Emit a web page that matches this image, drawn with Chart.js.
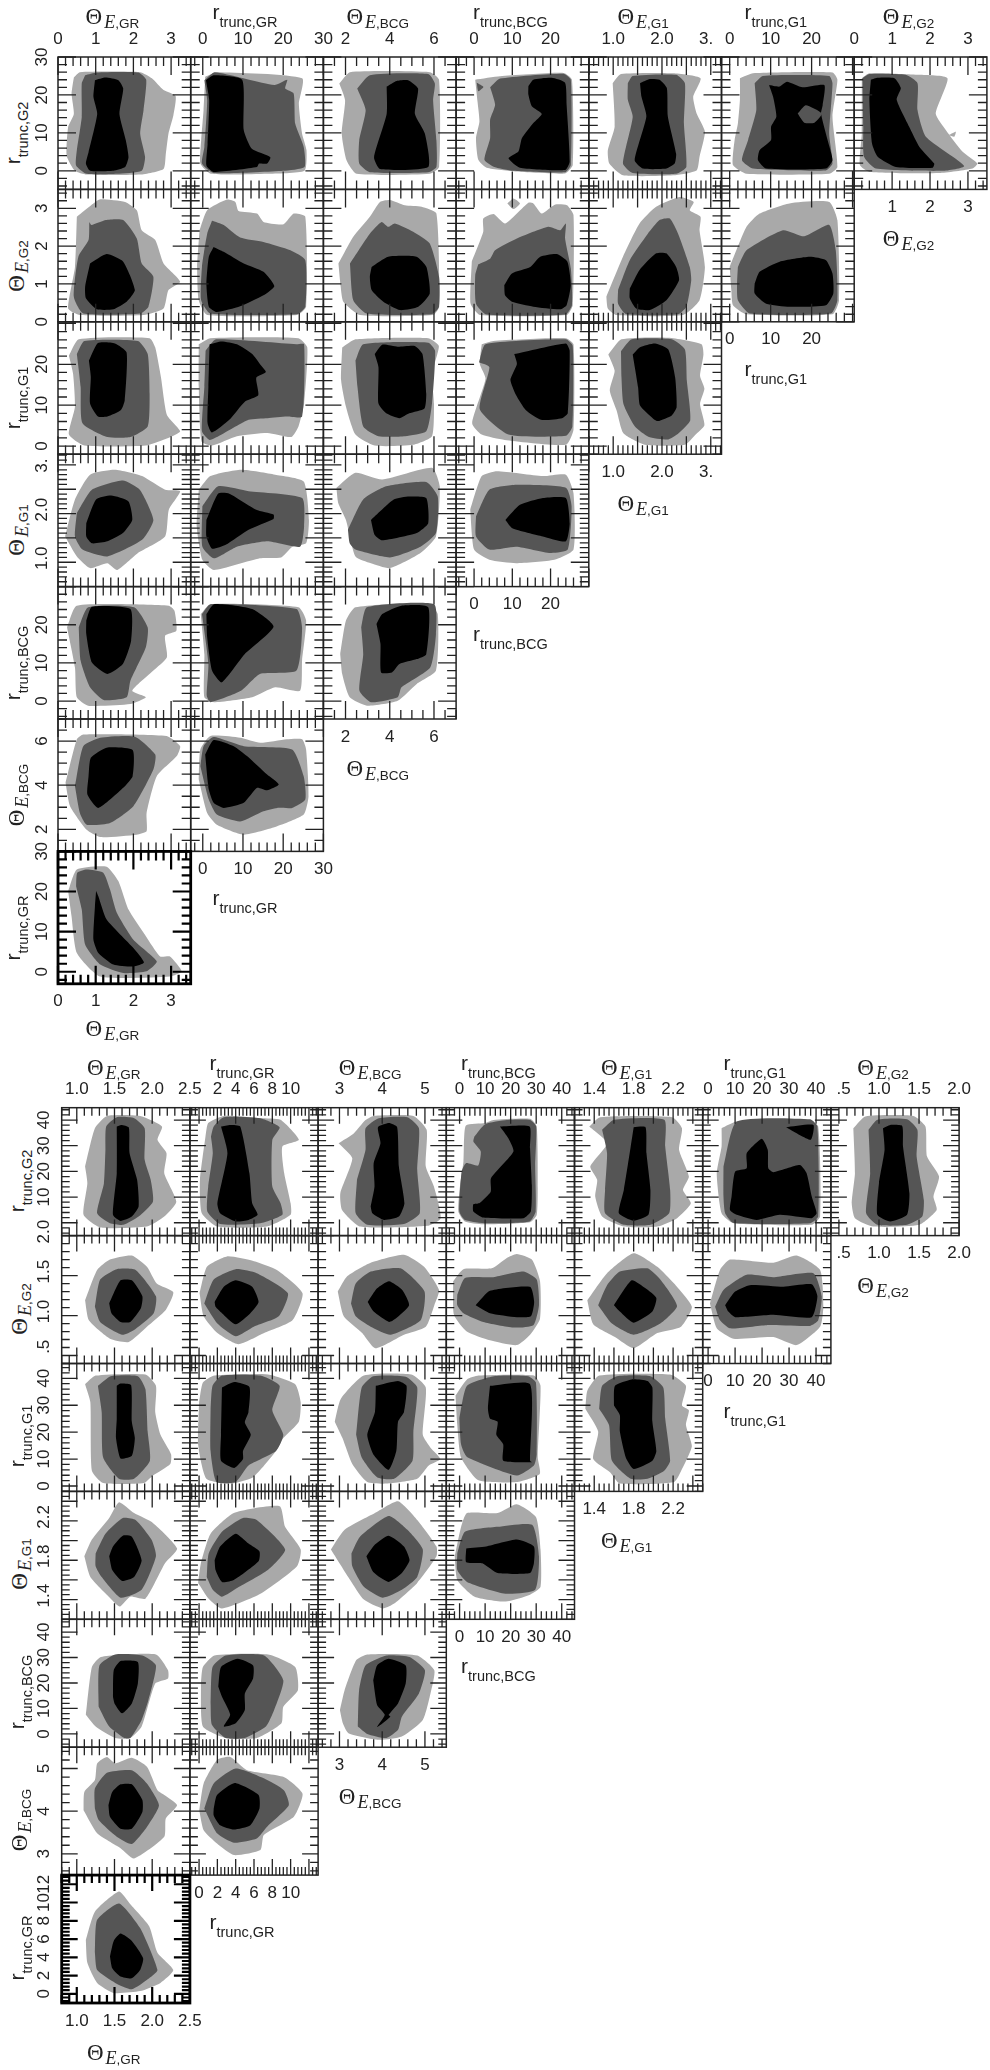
<!DOCTYPE html>
<html><head><meta charset="utf-8">
<style>
html,body{margin:0;padding:0;background:#fff;width:990px;height:2070px;overflow:hidden}
#page{position:relative;width:990px;height:2070px}
canvas{position:absolute}
.t{position:absolute;white-space:nowrap;color:#222;line-height:1;transform:translate(-50%,-50%)}
.t.v{transform:translate(-50%,-50%) rotate(-90deg)}
.th{font:23px "Liberation Serif",serif}
.e{font:italic 18px "Liberation Serif",serif;position:relative;top:4px;margin-left:2px}
.s{font:13.5px "Liberation Sans",sans-serif;position:relative;top:4px}
.r{font:21px "Liberation Sans",sans-serif}
.rs{font:14.5px "Liberation Sans",sans-serif;position:relative;top:8px}
</style></head><body><div id="page"></div>
<script src="https://cdn.jsdelivr.net/npm/chart.js@4/dist/chart.umd.js"></script>
<script>
// Variable names (columns, left to right; the last entry only appears as a row)
const varNames=[['t','GR'],['r','GR'],['t','BCG'],['r','BCG'],['t','G1'],['r','G1'],['t','G2'],['r','G2']];
// Upper figure: axis limits, tick steps and tick labels of each variable
const topRange=[[0,3.52],[-3,30],[1,7],[-4.7,30],[.5,3.22],[-2,30.4],[0,3.5],[-4.9,30]];
const topMajor=[1,10,2,10,.5,10,1,10];
const topMinor=[.2,2,.5,2,.1,2,.2,2];
const topTickText=[['0','1','2','3'],['0','10','20','30'],['2','4','6'],['0','10','20'],['1.0','2.0','3.'],['0','10','20'],['0','1','2','3'],['0','10','20','30']];
const topDiagText=[['0','1','2','3'],['0','10','20','30'],['2','4','6'],['0','10','20'],['1.0','2.0','3.'],['0','10','20'],['1','2','3']];
const topLeftText=[[],['0','10','20','30'],['2','4','6'],['0','10','20'],['1.0','2.0','3.'],['0','10','20'],['0','1','2','3'],['0','10','20','30']];
// Lower figure
const lowRange=[[.8,2.5],[-1,13],[2.5,5.5],[-5.2,45],[1.2,2.5],[-2,45.5],[.4,2],[-5,44.8]];
const lowMajor=[.5,2,1,10,.2,10,.5,10];
const lowMinor=[.1,.4,.2,2,.05,2,.1,2];
const lowTopText=[['1.0','1.5','2.0','2.5'],['2','4','6','8','10'],['3','4','5'],['0','10','20','30','40'],['1.4','1.8','2.2'],['0','10','20','30','40'],['.5','1.0','1.5','2.0']];
const lowDiagText=[['1.0','1.5','2.0','2.5'],['0','2','4','6','8','10'],['3','4','5'],['0','10','20','30','40'],['1.4','1.8','2.2'],['0','10','20','30','40'],['.5','1.0','1.5','2.0']];
const lowLeftText=[[],['0','2','4','6','8','10','12'],['3','4','5'],['0','10','20','30','40'],['1.4','1.8','2.2'],['0','10','20','30','40'],['.5','1.0','1.5','2.0'],['10','20','30','40']];

// Contours: [outer, middle, inner], each a flat list x,y,x,y... in data units
const T00=[[.42,24.6,.58,26,2.18,26,2.49,24.4,2.8,21.3,3.12,19.7,3.06,14.6,2.93,9.8,2.86,4.5,2.8,.5,2.18,-1,.76,-1,.45,0,.23,4,.27,11.6,.42,15,.36,20.4],[.72,25.2,1.03,25.9,2.13,25.9,2.34,24,2.27,16,2.18,9.8,2.31,3.6,2.22,0,1.56,-.8,.76,-.8,.48,1.4,.5,5.4,.63,14.2,.63,23],[.98,23.9,1.26,24.6,1.6,23.9,1.73,21.7,1.63,15,1.8,8,1.87,3.6,1.78,1,1.47,0,.85,0,.74,1.9,.81,4.9,1.04,15,.94,19.5]];
const T01=[[.6,24.8,3.5,26,24.7,24.4,23.9,17.7,24.7,9.8,25.8,5.4,25.3,0,16,-.8,2,-.8,-.6,1.9,-.4,8,.2,16],[.4,23.9,3,26,17.8,22.6,21,24,20.5,21.7,22.6,20.4,23,12.4,25.1,6.3,25.3,1,20,0,2.7,-.6,-.2,1.9,.4,6.3,1.1,18.6],[.8,23.9,2.7,25.2,9.8,24,10.2,10.7,12.2,5.8,16.8,3.6,16,1.9,14,1.9,13.5,1,2.7,-.3,.9,1.4,1.2,7.1,1.6,18.6]];
const T02=[[1.72,23,2.2,26,5.81,26,6.23,24,6.23,1,5.81,-.8,2.5,-.8,2.05,2.7,1.83,9.8,1.98,18.6],[2.53,21.7,3.1,25.2,5.74,25.5,6.04,23,5.96,18.6,6.11,8,6.11,1,5.74,-.4,3.1,-.4,2.62,1.9,2.62,8,2.91,16],[3.86,22.2,4.31,23.7,4.83,23.9,5.28,21.7,5.14,15,5.59,9.8,5.74,1,3.56,.5,3.29,3.6,3.86,15]];
const T03=[[.3,24,6.8,24.9,23.4,25.8,25.6,24,25.8,1.5,23.8,-.7,11.1,-.2,3.3,.8,1.1,2.9,.5,8.6,1.4,13,.9,18.3],[4.2,22,6.8,24.3,23.4,25.6,25.3,24,25.3,1.5,23.8,-.4,10.3,0,5.1,1.1,2.7,2.9,4.2,8.6,4.2,13.5,5.5,17.4],[14.2,22.3,15.5,24,20.3,24.5,23.8,23.2,24.2,17.4,25,2.4,23.8,.2,12,.8,9,3.3,11.6,5.1,12.5,8.6,15.5,12.6,17.7,15,15.1,17,14.2,20.1]];
const T04=[[.99,23.1,1.16,25.5,2.23,25.7,2.79,24.4,2.64,19.5,2.71,15.1,2.88,10.3,2.77,3.7,2.71,.1,2.23,-1.2,1.2,-1.2,.92,1.9,.89,5.4,1.03,11.6],[1.3,23.1,1.4,25,2.29,25.3,2.47,23.1,2.45,12.5,2.5,1,2.29,-.8,1.4,-.6,1.2,1.9,1.4,14.2,1.3,18.7],[1.55,23.1,1.75,24.2,1.95,24,2.1,21.8,2.12,14.3,2.29,4.5,2.26,1.9,2.09,.6,1.61,.6,1.44,2.8,1.68,14.3,1.58,19.5]];
const T05=[[2.5,24.4,5.7,25.7,25.1,25.9,26.3,24,25.1,14.3,26.3,1,24.3,-.8,4.1,-.8,.8,1.5,1.2,8.1,2,12.5,2.5,18.7],[6.1,23.1,8.1,25,24.3,25,25.1,23.1,24.3,9.8,25.1,1.9,23.5,.1,5.7,.6,3,2.8,4.5,8.1,6.5,16],[9.6,22.6,12.1,22.2,14,23.5,17.8,22,23.1,22.6,22.7,17.3,22.3,15.1,23.9,8.1,25.1,2.8,23.5,.6,8.9,.6,6.9,2.8,7.3,5.4,10.1,8.1,10.1,11.6,11.4,14.3,10.6,19.5]];
const T06=[[.2,24.4,.4,25.7,1.72,25.3,2.46,24.4,2.15,15.1,2.42,10.7,2.86,5,3.25,1.9,3.12,.6,2.24,-.6,.4,-.3,.15,1.5,.2,9.8],[.22,24.4,.4,25.5,1.36,25.3,1.67,23.1,1.67,16,1.89,9,2.9,1.3,2.33,0,.57,.6,.26,3.7,.24,11.6],[.44,24,.62,24.5,1.06,24.4,1.23,21.8,1.12,18.7,1.45,11.6,1.72,6.3,2.11,1.9,2.07,.8,1.1,1,.62,3.7,.47,7.2,.4,18.7]];
const T10=[[.5,2.78,.94,3.13,1.12,3.24,1.78,3.17,2.09,2.95,2.22,2.42,2.58,2.16,2.8,1.54,3.24,1.06,2.93,.84,2.8,.35,2.27,.18,.58,.18,.27,.35,.45,1.45],[.83,2.64,.89,2.56,1.27,2.69,1.73,2.69,2.09,2.2,2.22,1.54,2.53,1.19,2.4,.4,2.18,.22,.67,.22,.42,.66,.54,1.72,.81,2.16],[.85,1.54,1.29,1.79,1.73,1.59,2.04,.84,1.82,.53,1.47,.33,1.03,.33,.74,.62,.72,.93]];
const T11=[[-.8,2.42,1.1,2.95,6,3.23,8.1,3.17,8.9,2.93,13.5,2.86,15.1,2.64,20.1,2.58,22.6,2.86,25.5,2.78,25.7,.4,23.4,.18,1.1,.18,-1,.57,-1.4,1.45],[2.3,2.67,5.2,2.56,9.3,2.23,15.1,2.11,21.8,1.89,25.5,1.63,25.5,.4,23.4,.2,1.9,.22,-.4,.57,-.2,1.45,1.1,2.33],[2.7,1.98,5.2,1.85,10.2,1.54,15.1,1.32,17.8,.94,15.1,.7,9.3,.41,3.5,.26,1.5,.4,.9,1.01,1.5,1.72]];
const T12=[[1.68,1.54,2.35,2.25,3.1,2.78,3.56,3.17,4.01,3.22,4.68,3.08,5.44,3.04,6.11,2.86,6.23,.4,5.96,.18,2.65,.18,1.9,.53,1.78,.93],[2.2,1.54,3.1,2.33,3.63,2.64,3.93,2.51,4.23,2.6,5.06,2.38,5.81,2.07,6.23,1.19,6.23,.4,5.89,.2,2.95,.22,2.35,.57],[3.18,1.45,3.93,1.72,5.21,1.72,5.66,1.45,5.81,.75,5.29,.4,4.46,.31,3.71,.53,3.18,.84,3.1,1.19]];
const T13=[[-.6,1.59,2.4,2.38,2.4,2.73,5.1,2.85,8.1,2.6,14.2,3.15,15.5,3.13,17.7,2.86,21.2,3.1,24.3,3.08,26,2.82,25.8,.44,24.2,.18,1.6,.18,-.9,.48],[1.1,1.52,4.2,1.67,5.5,1.89,11.2,2.2,19.4,2.51,22.5,2.42,24,2.6,23.8,2.2,25.3,1.41,25.6,.44,23.8,.19,3.3,.19,.5,.48,.3,1.23],[7.9,.97,9.9,1.28,14.7,1.45,17.3,1.72,21.6,1.79,24.4,1.59,25.3,.97,24.2,.44,22.5,.33,15.5,.4,9.9,.53,8.1,.7]];
const T14=[[.86,.66,1.2,1.72,1.54,2.6,1.88,3.04,2.36,3.3,2.65,3.17,2.57,2.95,2.79,2.78,2.77,2.42,2.88,1.45,2.77,.57,2.43,.18,1.06,.18,.89,.35],[1.1,.84,1.34,1.63,1.71,2.33,1.95,2.69,2.16,2.73,2.33,2.33,2.57,1.45,2.6,1.1,2.5,.4,2.33,.2,1.27,.2,1.1,.48],[1.34,.88,1.54,1.37,1.88,1.81,2.09,1.81,2.29,1.45,2.35,1.1,2.09,.57,1.75,.31,1.47,.35,1.34,.62]];
const T15=[[0,1.45,4.1,2.51,7.3,2.86,14.6,3.13,24.3,3.17,26.3,2.69,26.7,.57,25.1,.2,4.1,.2,.8,.44,.4,.84],[2,1.45,4.1,1.89,13,2.42,18.2,2.26,24.3,2.56,25.9,1.89,26.3,.57,24.7,.22,4.9,.22,2,.57,1.8,1.01],[6.1,1.01,7.3,1.32,12.2,1.59,19.5,1.72,23.5,1.63,25.1,1.28,25.3,.75,23.5,.44,14.6,.4,8.9,.48,6.1,.75]];
const T20=[[.29,22.1,.55,26.1,2.43,26.4,2.58,24.1,2.73,16.9,2.89,7.6,3.24,3.6,2.94,2,2.33,.1,.7,.1,.29,2.8,.45,9.6,.4,17.7],[.5,22.5,.7,25.7,2.12,25.7,2.38,22.5,2.43,12.8,2.38,4.8,1.92,2.2,1.31,2.2,.65,5.6,.6,14.5],[.82,20.9,1.06,25.2,1.51,25.1,1.82,22.9,1.77,11.2,1.67,8.8,1.31,7.2,1.06,7.2,.85,10.4,.87,16.9]];
const T21=[[-1,24.9,1.9,26.4,23.8,26.4,26,24.1,25.2,10.4,23.8,4.8,22,2.2,16.1,3.2,8.5,2.4,2.3,.1,-.3,1.1,-1,14.5],[.7,23.3,3.3,26.1,23.3,24.9,25.2,24.9,24.7,7.2,20.9,7.2,16.1,6.8,11.4,6.4,4.7,2.8,1.7,1.5,-.2,3.6,.4,14.5],[1.7,24.9,4.7,25.6,8.5,24.9,12.3,22.5,14.2,20.1,15.7,18.1,13.3,16.7,13.8,12.4,10.4,10.8,6.6,6.4,2.3,3.3,1.2,5.6,1.4,14.5]];
const T22=[[1.85,24.1,2.45,26.1,5.74,26.4,6.22,24.5,5.91,17.7,6,10.4,5.91,2.4,5.05,.3,3.32,.1,2.45,2.8,2.02,9.6,1.8,16.1],[2.45,20.9,2.8,24.9,5.74,25.3,6.05,23.3,5.91,10.4,5.65,3.6,4.7,2.4,3.49,2.4,2.8,4.8,2.54,14.5],[3.32,22.5,3.66,24.8,4.36,24.3,5.13,24.5,5.48,22.5,5.65,12.8,5.57,9.2,4.88,8,4.44,6.8,3.84,8,3.49,10.4,3.49,19.3]];
const T23=[[2,24.9,5,25.7,24,26.4,26,24.9,26,4,24,.3,8,1.5,2,2.8,-.5,5.6,3,16.5,1.5,20.1],[1.3,20.5,3,24.9,24,26.1,25.8,24.5,25.7,4.8,24,2.5,9,2.8,1.5,9,4,19.3],[10.5,22.5,24,25.1,25,23.3,24.5,8,23,6.8,17.5,6.4,13.5,8.8,11,12.4,9.5,16.2,11.2,20.1]];
const T24=[[.9,22.4,1.17,26.1,2.13,26.5,2.81,24.9,2.85,22.4,2.78,17.2,2.87,14,2.78,10.3,2.87,5.1,2.68,2.7,2.47,.3,1.65,.3,1.21,3.1,1.07,8.7,.93,13.6,1.03,18.4],[1.16,23.2,1.38,26.1,2.2,26.1,2.47,23.6,2.51,16,2.58,6.3,2.34,3.1,2.13,1.6,1.72,2.3,1.45,4.7,1.21,10.3,1.17,16.8],[1.4,22.4,1.55,24.2,1.86,25.1,2.13,23.6,2.27,16.8,2.3,9.5,2.2,7.5,1.92,6.1,1.82,6.7,1.55,9.9,1.51,14.4]];
const T30=[[.19,1.53,.45,2.29,.85,2.8,1.51,2.9,2.23,2.77,2.84,2.49,3.24,2.46,2.94,2.08,2.84,1.53,2.12,1.19,1.57,.84,1.31,.98,.85,.88,.5,1.12],[.5,2.01,.9,2.49,1.72,2.68,2.17,2.49,2.53,1.87,2.23,1.46,1.31,1.12,.65,1.26,.45,1.53],[.75,1.8,1.01,2.29,1.41,2.37,1.87,2.25,1.97,1.87,1.72,1.6,1.31,1.43,.9,1.39,.75,1.53]];
const T31=[[-1,2.49,1.9,2.77,9.5,2.9,18,2.8,25.1,2.66,26.4,1.87,25.7,1.39,22.3,1.32,19.5,1.1,14.2,1.08,2.8,.84,-.1,1.05,-1.5,1.74],[-.1,2.15,3.8,2.56,11.4,2.46,24.7,2.32,25.2,1.74,24.2,1.32,16.1,1.43,8.5,1.32,2.8,1.08,-.1,1.32],[.9,1.87,3.8,2.41,6.6,2.41,13.3,2.08,17.6,1.98,17.6,1.89,11.4,1.67,5.7,1.36,2.3,1.28,.9,1.53]];
const T32=[[1.59,2.53,2.45,2.84,3.66,2.7,5.91,2.94,6.26,2.56,6.09,1.53,5.39,1.19,4.01,.88,3.15,.98,2.45,1.12,2.02,1.87,1.67,2.22],[2.11,1.67,2.8,2.29,3.84,2.56,5.65,2.65,6.17,2.35,6.09,1.6,5.39,1.32,4.01,1.1,2.45,1.26,2.19,1.39],[3.15,1.87,4.18,2.29,4.88,2.35,5.65,2.32,5.74,1.8,5.22,1.6,3.66,1.45,3.32,1.56]];
const T33=[[-1,2.08,2,2.77,6,2.87,18,2.77,24,2.8,26,2.42,26,1.26,21,1.05,11,.98,4,1.05,0,1.26],[.5,1.94,4,2.49,11,2.59,24,2.53,25.5,2.15,24.5,1.26,20,1.19,11,1.32,4,1.26,.5,1.53],[8.2,1.87,12,2.18,18,2.32,24,2.32,25,1.8,24,1.43,18,1.53,10,1.7]];
const T40=[[.24,19.3,.5,25,2.94,25,3.09,23.7,3.14,18.4,2.84,17.1,2.89,11.5,2.53,8,1.97,2.7,2.33,1,1.92,-.8,.8,-1.2,.5,1,.45,8.8],[.55,19.3,.8,24.6,2.02,24.6,2.38,19.3,2.33,14.1,1.92,5.3,1.82,1,1.21,.3,.85,3.6,.6,10.6],[.75,21.1,.9,24.7,1.92,24.1,1.94,15.8,1.72,9.7,1.31,7.1,.9,10.1,.75,17.6]];
const T41=[[-.5,22.8,1.9,25.4,23.8,24.6,25.7,21.1,24.7,10.6,24.2,2.7,18,3.6,12.3,1,2.8,-.3,.4,1,.4,12.3],[-.2,22.8,1.9,25.4,23.3,24.1,24.7,19.3,23.3,8,14.2,7.1,9.5,2.7,1.9,-.3,1,1.4,1.4,9.7],[.9,22.8,2.8,25.4,12.3,24.1,17.6,19.5,10.4,12.3,4.7,4.9,2.3,8,1.1,16.7]];
const T42=[[1.76,12.3,2.02,21.1,2.45,24.6,5.74,25.6,6.17,22.8,6.09,8,5.22,4.5,4.36,.1,2.97,-1.2,2.19,1,1.85,7.1],[2.71,19.3,2.97,24.6,6,25.4,6.09,17.6,5.83,8.8,4.53,3.6,4.36,1,3.15,-.3,2.63,2.7,2.8,12.3],[3.4,20.2,3.66,22.8,4.53,25,5.74,24.6,5.65,12.3,5.22,11,4.44,9.7,4.1,7.5,3.61,7.5,3.58,15]];
const T50=[[.2,4.11,.5,6.08,.67,6.3,2.88,6.23,3.24,5.77,3.15,5.32,2.62,4.41,2.35,2.74,2.35,1.91,2.09,1.76,1.12,1.65,.76,1.98,.32,3.05],[.45,3.95,.67,5.77,1.12,6.15,2.04,6.2,2.58,5.39,2.53,4.71,2,3.05,1.38,2.29,.76,2.21,.58,2.74],[.81,4.41,.87,5.24,1.29,5.7,1.98,5.59,1.98,4.41,1.73,3.88,1.07,2.97,.78,3.58]];
const T51=[[-1,4.26,-.6,5.62,1.9,6.23,9.3,6.15,14.3,5.92,20.9,6.08,24.7,6.08,25.7,5.62,26.3,3.5,25.1,2.67,18.5,2.14,10.2,1.76,3.5,2.21,1.1,2.74],[-.6,4.86,.2,5.77,2.7,6.18,10.2,5.77,22.2,5.62,25.1,4.41,25.5,3.35,22.2,2.97,18.5,2.97,15.1,2.82,9.3,2.36,3.5,2.67,1.5,3.35],[.6,5.39,2.7,6.05,7.7,5.77,11,5.32,16,4.48,18.9,4.03,16,3.77,13.5,3.88,10.2,3.2,5.2,2.97,2.7,3.2,1.5,3.8]];
const T60=[[.27,20.1,.5,25.5,1.29,26.2,1.6,22.6,1.87,15.5,2.27,9.7,2.71,3.8,2.97,3.8,3.28,.1,2.97,-1.2,1.12,-1.2,.5,4.7,.36,13.8],[.48,21.3,.51,24.7,.76,25.5,1.2,24.7,1.38,20.5,1.56,14.7,2,8,2.62,2.6,2.35,.1,1.73,-.3,1.12,1.8,.72,6.8,.63,15.5],[1.01,20.1,1.07,18.8,1.29,13,2,5.9,2.28,2.3,2,1.3,1.47,1.8,1.07,4.7,.94,8,.98,16.3]];

const B00=[[1.11,21.9,1.24,36.8,1.4,41.6,1.84,41.6,2.13,37.5,2.07,32.3,2.19,27.1,2.16,19.3,2.32,8.2,2.16,2.4,1.93,-1.5,1.31,-1.8,1.09,3.1,1.14,15.4],[1.38,28.4,1.39,37.5,1.53,41.1,1.76,40.7,1.9,36.8,1.9,24.5,1.98,16.7,2.01,8.2,1.82,2.4,1.62,-.8,1.44,-.2,1.27,3.7,1.36,15.4],[1.53,37.5,1.59,38.1,1.69,37.1,1.7,27.1,1.8,16.7,1.82,6.3,1.73,2.4,1.58,.7,1.48,3.1,1.53,19.3]];
const B01=[[.7,33.6,1,38.8,2.7,41.6,6.7,40.7,8.9,40.1,10.9,32.3,9.1,29.7,9.3,19.3,10,7.6,10,3.1,7.4,-1.5,2,-1.5,.3,3.7,.1,16.7],[1.3,33.6,1.6,37.5,2.7,41.1,6.7,40.7,8.8,37.2,8,32.3,8,14.1,8.9,7.6,9.1,3.1,6.7,-.2,2.3,-.5,.9,4.4,1,14.1,1.5,27.1],[2.4,37.5,3.4,38.1,4.5,37.5,5.5,19.3,5.8,7.6,6.4,3.1,5.4,1.1,4,.5,2.3,3.7,2,7.6,3.1,27.1]];
const B02=[[2.98,31,3.34,34.9,3.61,40,3.8,41.6,4.73,41.6,5.04,36.2,5.02,21.9,5.21,14.1,5.37,1.8,5.05,-1.2,3.49,-1.5,3.06,5,3.02,11.5,3.3,25.1],[3.41,16.7,3.61,28.4,3.61,36.8,3.92,40.7,4.59,41.1,4.86,36.8,4.82,20.6,4.88,3.7,4.51,-.5,3.65,-.8,3.38,3.7],[3.73,6.3,3.82,14.1,3.8,23.2,3.96,31,3.9,37.2,4.16,38.8,4.35,37.2,4.39,21.9,4.52,7.6,4.39,2.4,4.04,1.1,3.77,3.7]];
const B03=[[1.7,31.6,2.5,37.9,10,38.8,13.2,40,27.6,40.5,30.2,37.5,30.6,13.4,30.2,3,27.6,.2,9.2,-.6,2.1,.5,-.5,4.4,.2,14.7,1.5,23.8],[5.8,33.6,10,38.4,18.5,40,27.6,40,30,37.5,29.6,22.5,29.8,4.4,27.4,.5,10.6,-.2,2.1,1.1,-.1,4.4,.8,19.9,2.5,23.2,7.3,22.3,8.3,27.7,5.4,31.6],[15.8,37.5,27.4,37.5,27.6,29,28.3,14.7,27.9,4.4,25,1.8,9.3,2,5.4,4.4,5.4,7.2,7.7,7.6,12.2,12.1,12.3,17.3,21.1,27.7,19.1,32.9]];
const B04=[[1.35,37.5,1.46,41.1,2.19,41.1,2.29,36.8,2.26,28.4,2.36,18,2.3,12.8,2.38,7.6,2.24,1.8,2.04,-1.5,1.7,-1.5,1.48,2.4,1.41,10.2,1.43,16.7,1.36,21.9,1.53,31],[1.48,36.2,1.6,40.1,2.11,40.1,2.12,29.7,2.17,12.8,2.16,3.7,1.97,-.8,1.7,-.8,1.51,3.7,1.51,12.8,1.53,27.1],[1.8,37.2,1.92,37.2,1.93,27.1,1.97,12.8,1.95,3.1,1.8,.8,1.65,3.7,1.7,12.8,1.77,29.7]];
const B05=[[5,36.8,10.6,39.4,36.5,40.1,40.8,37.5,41.5,2.4,38.4,-.8,9.4,-.2,5,3.7,3.2,19.3,5,29.7],[5.7,21.9,10.6,39.4,37.8,40.3,40.5,37.5,40.8,2.4,37.8,-.2,9.4,-.1,6.3,3.7,5.7,10.2],[8.7,10.2,10,19.9,14.3,21.2,14.3,27.1,19.9,32.7,22.1,28.4,22.3,21.2,24.2,19.7,34,22.5,36.5,19.3,38.4,10.2,40.2,3.7,38.4,1.8,26.6,3.1,18,1.1,10.6,3.1,8.1,5]];
const B06=[[.68,36.8,.83,41.4,1.43,41.6,1.58,37.5,1.6,25.8,1.75,18,1.68,10.2,1.72,5,1.5,-.8,.93,-1.5,.7,1.8,.66,7.6,.7,19.3],[.87,36.2,.98,40.1,1.35,40.3,1.48,36.2,1.47,25.8,1.56,8.9,1.54,2.4,1.35,-.8,.98,-.8,.84,3.7,.89,19.3],[1.05,36.8,1.14,38.1,1.29,37.7,1.3,29.7,1.38,11.5,1.35,3.1,1.14,.5,.98,3.1,1,15.4,1.07,28.4]];
const B10=[[1.11,1.19,1.27,1.57,1.44,1.7,1.73,1.75,1.93,1.61,2.06,1.4,2.28,1.29,2.18,1.07,1.93,.86,1.69,.67,1.44,.71,1.16,.94],[1.24,1.11,1.31,1.45,1.53,1.58,1.78,1.57,2.05,1.24,2.02,1.03,1.76,.82,1.6,.76,1.31,.92],[1.43,1.15,1.58,1.44,1.73,1.44,1.87,1.24,1.85,1.09,1.71,.92,1.58,.92,1.46,1.03]];
const B11=[[.06,1.28,.86,1.61,3.05,1.74,6,1.68,8.5,1.57,11.3,1.28,10.2,.94,7.1,.78,4.3,.64,2,.78,.5,.99],[.57,1.15,1.6,1.45,4,1.58,6.3,1.53,9.7,1.28,8.7,.99,5.97,.86,4,.74,2,.9],[1.7,1.17,2.7,1.36,4,1.44,5.8,1.36,6.5,1.17,5.6,1.03,4,.89,2.5,1.03,1.8,1.11]];
const B12=[[2.96,1.3,3.18,1.49,3.73,1.66,4.51,1.76,4.98,1.61,5.33,1.32,5.22,1.13,5.02,.86,4.51,.76,3.84,.59,3.53,.78,3.1,.99],[3.27,1.15,3.38,1.4,3.73,1.55,4.43,1.59,4.99,1.3,4.9,.94,4.2,.76,3.73,.86,3.38,.99],[3.66,1.17,3.88,1.34,4.16,1.43,4.47,1.32,4.63,1.13,4.31,.96,4.16,.92,3.8,1.05]];
const B13=[[-2.5,1.43,1.5,1.58,12.6,1.59,18.5,1.72,22.4,1.77,28.3,1.7,31.5,1.43,31.5,.96,27.6,.76,22.4,.63,11.9,.69,2.8,.8,-2.2,1.01],[-.9,1.26,2.1,1.47,13.2,1.48,25,1.55,30.2,1.45,31.1,1.13,28.9,.88,21.1,.85,9.3,.92,1.5,1.03,-.9,1.13],[6.3,1.13,11.9,1.31,27.6,1.36,29.2,1.17,27.9,.99,22.4,.98,11.9,1.03]];
const B14=[[1.33,1.19,1.53,1.53,1.8,1.78,2.04,1.61,2.21,1.4,2.39,1.11,2.28,.86,2.04,.78,1.8,.59,1.61,.73,1.39,.89],[1.44,1.13,1.53,1.38,1.66,1.55,1.94,1.59,2.07,1.45,2.24,1.12,2.07,.9,1.8,.76,1.58,.9],[1.6,1.13,1.78,1.44,1.92,1.34,2.03,1.22,1.99,1.05,1.8,.91,1.66,1.05]];
const B15=[[.7,1.15,4.4,1.57,8.1,1.7,24.2,1.66,32.8,1.75,41.5,1.57,42.7,1.11,41.5,.86,32.8,.63,24.2,.73,9.4,.71,3.2,.84],[2.6,1.11,5.7,1.32,14.3,1.51,24.2,1.48,39,1.53,42.1,1.24,40.8,.94,37.8,.87,21.7,.88,8.1,.84,4.4,.94],[6.3,1.13,10,1.3,15.5,1.38,27.9,1.36,38.4,1.39,40.5,1.24,38.4,.98,24.2,1.01,10,.98,7.5,1.05]];
const B20=[[1.11,37.8,1.25,41,1.91,41.4,2.05,37.2,2.04,27.5,2.11,19,2.25,11.8,2.24,8.2,2.01,3.9,1.89,1.1,1.35,1.1,1.2,5.7,1.18,31.1],[1.28,37.2,1.45,40.8,1.81,40.8,1.91,36,1.94,20.2,1.97,9.4,1.76,2.7,1.56,2.7,1.35,10.6,1.33,27.5],[1.53,37.2,1.58,38.1,1.72,37.5,1.73,23.9,1.77,17.8,1.73,11.2,1.58,10.2,1.52,17.8,1.53,25.1]];
const B21=[[0,31.1,.42,38.4,1.68,41,7.54,41.4,10.5,37.8,11.1,31.1,10.9,23.9,9.2,17.8,8.4,13,5.9,3.3,3.4,.9,.8,2.7,-.1,15.4],[1.26,28.7,1.47,37.2,2.5,41,6.7,41,8.8,37.2,8,28.1,9.2,19,8.4,13,5.4,7.6,4,1.5,1.9,1.5,1.26,13],[2.5,36.6,3.85,38.6,5.5,36.8,5.4,27.5,5,23.6,5.65,19,4.8,13,4.8,10,3.85,6.7,2.4,9.4,2.4,19]];
const B22=[[2.89,23.9,3.03,32.3,3.57,41,4.68,41.4,5.02,36.6,4.95,19,5.13,14.2,5.36,10,5.09,7.6,4.82,2.7,4.1,.9,3.65,1.5,3.3,8.2,3.07,17.8],[3.39,19,3.52,36.6,3.79,40.8,4.55,40.6,4.82,36.6,4.73,20.2,4.71,9.4,4.28,2.7,3.88,3.3,3.52,10.6],[3.85,37.2,4.37,39,4.57,37.2,4.51,27.5,4.37,23.9,4.33,13,4.15,6,3.79,11.8,3.65,19,3.83,27.5]];
const B23=[[-1.6,33.6,2.9,39.6,7.4,41,29.1,41,31.7,37.2,30.6,10.6,31.4,4.5,22.4,1.5,7.4,2.1,.6,10.6,-.9,22.7],[-.1,25.1,2.9,37.2,13.4,40.8,26.9,40.8,29.9,38.4,30.2,11.8,29.1,7.6,22.4,3.9,2.9,10.8,.6,15.4],[11.9,37.2,27.6,37.8,27.6,9.4,28.4,8.8,17.1,9.4,17.1,15.4,14.4,19,14.9,23.9,11.9,25.1,11.1,28.7]];
const B24=[[1.31,28.7,1.33,35.4,1.45,41,2.17,41.4,2.33,37.2,2.29,29.9,2.36,28.1,2.33,22.7,2.39,14.8,2.29,6.3,2.21,1.5,1.66,.9,1.56,5.1,1.39,10,1.44,20.2],[1.45,28.7,1.48,37.2,1.63,40.8,1.97,40.8,2.1,36.6,2.12,25.1,2.17,9.4,2.11,5.7,1.94,2.7,1.77,2.7,1.58,9.4,1.55,22.7],[1.6,29.9,1.61,37.2,1.78,39.6,1.94,39,1.99,36.6,1.99,23.9,2.03,13,1.99,9.4,1.8,6.3,1.72,10.6,1.66,20.2,1.66,26.3]];
const B30=[[1.1,1.84,1.2,2.01,1.43,2.23,1.56,2.39,1.76,2.28,2.01,2.18,2.33,1.92,2.17,1.77,1.91,1.41,1.71,1.43,1.57,1.33,1.45,1.41,1.18,1.63],[1.25,1.87,1.38,2.07,1.61,2.23,1.78,2.21,1.99,2.01,2.05,1.84,1.86,1.5,1.58,1.42,1.33,1.63,1.25,1.74],[1.43,1.84,1.48,1.94,1.61,2.05,1.73,2.04,1.86,1.8,1.76,1.63,1.6,1.59,1.47,1.7]];
const B31=[[-.1,1.57,.2,1.77,1.26,2.07,3.8,2.28,8.8,2.35,9.4,2.14,11.1,1.91,10.7,1.74,6.7,1.46,2.5,1.31,1.05,1.41],[.84,1.63,1.05,1.87,2.5,2.09,4.8,2.23,6.3,2.21,9.4,1.91,7.5,1.7,4.2,1.52,2.5,1.43,1.5,1.5],[1.7,1.8,2.3,1.94,4,2.07,5.4,1.97,6.6,1.89,6.5,1.79,3.8,1.6,2.5,1.58,1.8,1.7]];
const B32=[[2.8,1.91,3.12,2.11,3.83,2.28,4.37,2.4,4.82,2.21,5.27,1.94,5.27,1.84,4.82,1.57,4.28,1.36,4.01,1.31,3.57,1.4,3.25,1.6],[3.28,1.87,3.48,2.04,4.15,2.25,4.59,2.11,4.95,1.91,4.82,1.63,4.46,1.5,4.01,1.42,3.57,1.53,3.3,1.74],[3.63,1.84,3.83,1.96,4.15,2.05,4.51,1.94,4.64,1.8,4.46,1.67,4.15,1.58,3.79,1.68]];
const B33=[[-1.9,1.84,.6,2.14,2.9,2.28,14.9,2.28,22.4,2.37,29.9,2.24,31.7,1.91,31.7,1.53,27.6,1.45,18,1.38,5.9,1.43,-.9,1.6],[-.9,1.87,2.1,2.09,14.9,2.14,28.4,2.16,31.1,1.84,29.6,1.5,18,1.46,2.9,1.58,-.9,1.7],[2.6,1.92,10.4,1.94,22.4,2.01,29.1,1.94,29.1,1.77,27.6,1.67,14.9,1.67,8.9,1.77,2.6,1.78]];
const B40=[[1.12,7.5,1.2,26.3,1.32,30.2,2.05,31.2,2.21,25,2.21,21.8,2.04,19.8,1.86,2.9,1.71,-1.6,1.51,-1.6,1.25,2.9],[1.29,10.7,1.3,26.9,1.51,31.2,1.87,30.8,2.05,26.9,1.95,13.3,1.86,5.5,1.71,-1.6,1.63,-1.6,1.43,2.9],[1.48,14.6,1.49,25,1.58,28.6,1.81,28.2,1.81,19.8,1.73,12,1.6,8.1,1.5,12]];
const B41=[[.2,19.8,.42,26.3,1.68,30.8,7.54,31.2,10.5,26.3,10.8,17.2,9.2,10.7,9,4.2,6.3,-1.6,2.9,-1.6,.42,2.9],[1.26,12,1.47,26.3,2.9,30.8,7.1,30.8,9.2,21.1,8.2,9.4,7.3,2.9,5,-1.6,2.9,-1.6,1.4,3.6],[2.1,18.5,2.4,26.3,4.2,29.5,5.9,26.9,5.9,21.8,5,15.9,5,9.4,4,4.2,2.7,2.9,3.4,7.5,2.5,14.6]];
const B42=[[3.01,9.4,3.12,17.2,3.39,28.9,3.65,31.2,4.82,30.8,5.22,25,5.13,15.9,4.95,5.5,4.46,-1,3.92,-2.3,3.21,.3,3.08,4.2],[3.43,2.9,3.46,17.2,3.61,26.9,4.1,30.8,4.64,30.2,5,25,4.86,15.9,4.46,6.8,4.37,1.6,4.1,-1.6,3.65,0],[3.79,21.1,3.88,26.9,4.15,29.5,4.55,26.9,4.55,19.8,4.37,12,4.15,7.5,4.19,6.8,3.88,2.7,4.06,7.5,3.88,11.4]];
const B50=[[1.09,4.02,1.1,4.45,1.24,4.73,1.27,5.12,1.4,5.27,1.51,5.12,1.73,5.25,1.93,5.04,2.07,4.49,2.16,4.38,2.33,4.14,2.18,3.83,2.16,3.4,1.76,2.89,1.58,3.13,1.27,3.48],[1.24,4.06,1.24,4.53,1.4,4.9,1.73,4.96,1.93,4.65,2.09,4.14,1.93,3.63,1.73,3.23,1.53,3.4,1.29,3.79],[1.42,4.14,1.47,4.45,1.58,4.63,1.73,4.63,1.87,4.26,1.87,3.98,1.73,3.59,1.58,3.59,1.44,3.87]];
const B51=[[.02,4.02,.5,4.65,1.96,5.2,3.4,5.27,5.24,4.96,9.26,4.8,11.3,4.41,10.35,3.87,7.07,3.44,6.7,3.09,3.8,2.97,1.96,3.24,.5,3.55],[.57,4.06,1.6,4.65,4,5,7.07,4.77,9.26,4.49,9.8,4.14,7.4,3.63,6.3,3.36,3.8,3.26,1.96,3.48],[1.6,4.06,1.96,4.38,3.9,4.66,6.5,4.38,6.6,4.06,5.6,3.67,3.8,3.57,2.3,3.67,1.6,3.9]];
const B60=[[1.12,5.9,1.24,9,1.56,11.2,1.71,9.8,1.96,7.4,2.07,4.5,2.28,2.6,2.11,1.2,1.84,.3,1.49,.1,1.27,1.2,1.14,3.4],[1.24,4.5,1.27,8.1,1.56,9.9,1.84,7.2,2.07,2.6,1.96,1.7,1.73,.5,1.51,1.2,1.27,2.6],[1.44,4.1,1.49,5.8,1.58,6.6,1.73,5.8,1.88,3.9,1.84,2.6,1.73,1.7,1.58,1.9,1.47,2.8]];
// Small isolated islands: [figure, row, col, shade index, x,y list]
const spots=[
 ['T',0,3,1,[.7,23.2,2.45,22.1,1.1,21]],
 ['T',0,5,1,[16.6,15.1,18.6,17.3,22.5,15.1,20.7,12.7,18.2,12.7]],
 ['T',0,6,0,[2.49,9.4,2.68,10.3,2.64,9]],
 ['T',1,3,0,[8.7,3.13,10.3,3.26,12,3.13,10.3,2.98]],
 ['B',0,5,2,[28.9,37.2,39,38.1,38,32.3]]
];
const topPanels=[[T00,T01,T02,T03,T04,T05,T06],[T10,T11,T12,T13,T14,T15],[T20,T21,T22,T23,T24],[T30,T31,T32,T33],[T40,T41,T42],[T50,T51],[T60]];
const lowPanels=[[B00,B01,B02,B03,B04,B05,B06],[B10,B11,B12,B13,B14,B15],[B20,B21,B22,B23,B24],[B30,B31,B32,B33],[B40,B41,B42],[B50,B51],[B60]];
const shades=['#a9a9a9','#555555','#000000'];

const page=document.getElementById('page');
const M=46, LABEL='17px "Liberation Sans", sans-serif', INK='#222';

function stepTicks(r,major,minor){
  const out=[];const n0=Math.ceil(r[0]/minor-1e-6),n1=Math.floor(r[1]/minor+1e-6);
  for(let n=n0;n<=n1;n++){const v=+(n*minor).toFixed(4);const q=v/major;out.push({value:v,major:Math.abs(q-Math.round(q))<1e-6});}
  return out;
}
function drawLabel(ctx,txt,px,py,rot){
  let full=txt,al='center';
  if(txt.endsWith('.'))  {full=txt+'0';al='left';}
  if(txt.startsWith('.')){full='0'+txt;al='right';}
  const w=ctx.measureText(full).width;
  ctx.save();ctx.translate(px,py);if(rot)ctx.rotate(-Math.PI/2);
  ctx.textAlign=al;ctx.textBaseline='middle';
  ctx.fillText(txt,al==='left'?-w/2:al==='right'?w/2:0,0);
  ctx.restore();
}
const panelPlugin={id:'panelPlugin',
  beforeDatasetsDraw(chart){
    const ctx=chart.ctx,a=chart.chartArea;
    ctx.save();ctx.beginPath();ctx.rect(a.left,a.top,a.width,a.height);ctx.clip();
    chart.data.datasets.forEach((d,i)=>{
      const line=chart.getDatasetMeta(i).dataset;
      line.updateControlPoints(a,'x');
      ctx.beginPath();line.path(ctx);ctx.closePath();
      ctx.fillStyle=d.backgroundColor;ctx.fill();
    });
    ctx.restore();
  },
  afterDatasetsDraw(chart,args,o){
    const ctx=chart.ctx,a=chart.chartArea,X=chart.scales.x,Y=chart.scales.y;
    ctx.save();
    ctx.strokeStyle=o.heavy?'#000':INK;ctx.lineWidth=o.heavy?2.2:1.3;
    ctx.beginPath();
    X.ticks.forEach(t=>{const p=X.getPixelForValue(t.value),L=t.major?o.majorLen:o.minorLen;
      ctx.moveTo(p,a.top);ctx.lineTo(p,a.top+L);ctx.moveTo(p,a.bottom);ctx.lineTo(p,a.bottom-L);});
    Y.ticks.forEach(t=>{const p=Y.getPixelForValue(t.value),L=t.major?o.majorLen:o.minorLen;
      ctx.moveTo(a.left,p);ctx.lineTo(a.left+L,p);ctx.moveTo(a.right,p);ctx.lineTo(a.right-L,p);});
    ctx.stroke();
    ctx.lineWidth=o.heavy?2.8:1.5;ctx.strokeRect(a.left,a.top,a.width,a.height);
    ctx.fillStyle=INK;ctx.font=LABEL;
    (o.topText||[]).forEach(s=>drawLabel(ctx,s,X.getPixelForValue(parseFloat(s)),a.top-18,false));
    (o.bottomText||[]).forEach(s=>drawLabel(ctx,s,X.getPixelForValue(parseFloat(s)),a.bottom+18,false));
    (o.leftText||[]).forEach(s=>drawLabel(ctx,s,a.left-o.leftGap,Y.getPixelForValue(parseFloat(s))-(s.includes('.')?4:0),true));
    ctx.restore();
  }
};
function makePanel(poly,px,py,w,h,xr,yr,xT,yT,opts,extra){
  const cx=Math.floor(px)-M,cy=Math.floor(py)-M;
  const cvW=Math.ceil(w)+2*M,cvH=Math.ceil(h)+2*M;
  const cv=document.createElement('canvas');
  cv.width=cvW;cv.height=cvH;cv.style.cssText=`left:${cx}px;top:${cy}px;width:${cvW}px;height:${cvH}px`;
  page.appendChild(cv);
  const sets=poly.map((f,i)=>({f,c:shades[i]})).concat(extra.map(s=>({f:s[4],c:shades[s[3]]})));
  new Chart(cv.getContext('2d'),{type:'scatter',
    data:{datasets:sets.map(s=>{
      const pts=[];for(let i=0;i<s.f.length;i+=2)pts.push({x:s.f[i],y:s.f[i+1]});
      pts.push({x:s.f[0],y:s.f[1]});
      return {data:pts,showLine:true,backgroundColor:s.c,borderWidth:0,borderColor:s.c,pointRadius:0,tension:.18};
    })},
    options:{responsive:false,animation:false,events:[],
      layout:{padding:{left:px-cx,top:py-cy,right:cvW-(px-cx)-w,bottom:cvH-(py-cy)-h}},
      scales:{
        x:{type:'linear',display:false,min:xr[0],max:xr[1],ticks:{display:false,autoSkip:false},afterBuildTicks:s=>{s.ticks=xT;}},
        y:{type:'linear',display:false,min:yr[0],max:yr[1],ticks:{display:false,autoSkip:false},afterBuildTicks:s=>{s.ticks=yT;}}
      },
      plugins:{legend:{display:false},tooltip:{enabled:false},panelPlugin:opts}
    },plugins:[panelPlugin]});
}
function addTitle(v,x,y,vert){
  const [k,sub]=varNames[v];
  const d=document.createElement('div');d.className='t'+(vert?' v':'');
  d.style.left=x+'px';d.style.top=y+'px';
  const cap=document.createElement('span');
  if(k==='t'){
    const a=document.createElement('span');a.className='th';a.textContent='Θ';
    const b=document.createElement('span');b.className='e';b.textContent='E';
    const c=document.createElement('span');c.className='s';c.textContent=','+sub;
    cap.append(a,b,c);
  }else{
    const a=document.createElement('span');a.className='r';a.textContent='r';
    const b=document.createElement('span');b.className='rs';b.textContent='trunc,'+sub;
    cap.append(a,b);
  }
  d.appendChild(cap);page.appendChild(d);
}
function buildFigure(fig,panels,x0,y0,w,h,range,major,minor,topText,diagText,leftText,ml,mj,leftGap,xTheta,xR,leftTitleDy){
  const ticks=range.map((r,i)=>stepTicks(r,major[i],minor[i]));
  panels.forEach((row,r)=>{
    const yVar=7-r;
    addTitle(yVar,varNames[yVar][0]==='t'?xTheta:xR,y0+(r+.5)*h+leftTitleDy,true);
    row.forEach((poly,c)=>{
      const opts={majorLen:mj,minorLen:ml,leftGap,heavy:(r===6),
        topText:r===0?topText[c]:[],
        bottomText:c===row.length-1?diagText[c]:[],
        leftText:c===0?leftText[yVar]:[]};
      const extra=spots.filter(s=>s[0]===fig&&s[1]===r&&s[2]===c);
      makePanel(poly,x0+c*w,y0+r*h,w,h,range[c],range[yVar],ticks[c],ticks[yVar],opts,extra);
      const isT=varNames[c][0]==='t';
      if(r===0)addTitle(c,x0+(c+.5)*w-12,y0-(isT?40:45),false);
      if(c===row.length-1){
        const dy=isT?((fig==='T'&&r===6)?45:50):47;
        addTitle(c,x0+(c+.5)*w-12,y0+(r+1)*h+dy,false);
      }
    });
  });
}
buildFigure('T',topPanels,58,57,132.7,132.4,topRange,topMajor,topMinor,topTickText,topDiagText,topLeftText,9,18,16,17,13,10);
buildFigure('B',lowPanels,61.7,1107.7,128.2,127.9,lowRange,lowMajor,lowMinor,lowTopText,lowDiagText,lowLeftText,8,16,17,20,17,9);
</script></body></html>
